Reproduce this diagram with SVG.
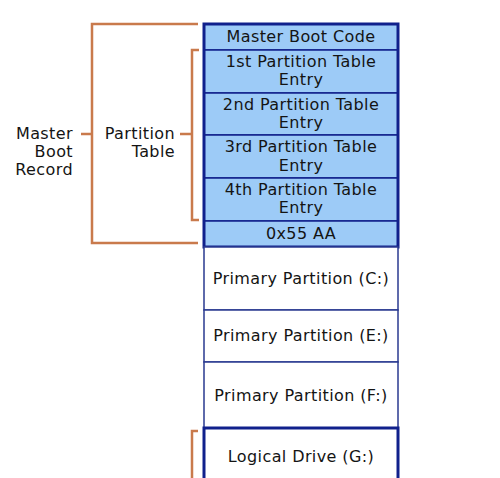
<svg xmlns="http://www.w3.org/2000/svg" width="500" height="478" viewBox="0 0 500 478">
<style>
text{font-family:"DejaVu Sans","Liberation Sans",sans-serif;font-size:16px;letter-spacing:0.4px;fill:#141414}
.c{text-anchor:middle}
.r{text-anchor:end}
.blue{fill:#9dcbf7;stroke:#10208c;stroke-width:1.5}
.white{fill:#ffffff;stroke:#2a3a90;stroke-width:1.5}
.thick{fill:none;stroke:#10208c;stroke-width:3}
.br{fill:none;stroke:#c97a4c;stroke-width:2.5}
</style>
<rect width="500" height="478" fill="#ffffff"/>
<g id="connectors">
<path class="br" d="M198,24 H92 V243 H198 M81,134 H92"/>
<path class="br" d="M199,50 H192 V220 H199 M180,134 H192"/>
<path class="br" d="M198,431 H192 V478"/>
</g>
<g id="label-mbr">
<text class="r" x="73" y="139">Master</text>
<text class="r" x="73" y="157">Boot</text>
<text class="r" x="73" y="175">Record</text>
</g>
<g id="label-pt">
<text class="r" x="175" y="139">Partition</text>
<text class="r" x="175" y="157">Table</text>
</g>
<g id="mbc">
<rect class="blue" x="204" y="24" width="194" height="26"/>
<text class="c" x="301" y="42">Master Boot Code</text>
</g>
<g id="pte1">
<rect class="blue" x="204" y="50" width="194" height="43"/>
<text class="c" x="301" y="67">1st Partition Table</text>
<text class="c" x="301" y="85">Entry</text>
</g>
<g id="pte2">
<rect class="blue" x="204" y="93" width="194" height="42"/>
<text class="c" x="301" y="110">2nd Partition Table</text>
<text class="c" x="301" y="128">Entry</text>
</g>
<g id="pte3">
<rect class="blue" x="204" y="135" width="194" height="43"/>
<text class="c" x="301" y="152">3rd Partition Table</text>
<text class="c" x="301" y="171">Entry</text>
</g>
<g id="pte4">
<rect class="blue" x="204" y="178" width="194" height="43"/>
<text class="c" x="301" y="195">4th Partition Table</text>
<text class="c" x="301" y="213">Entry</text>
</g>
<g id="sig">
<rect class="blue" x="204" y="221" width="194" height="26"/>
<text class="c" x="301" y="239">0x55 AA</text>
</g>
<rect id="mbr-outline" class="thick" x="204" y="24" width="194" height="223"/>
<g id="pc">
<rect class="white" x="204" y="247" width="194" height="63"/>
<text class="c" x="301" y="284">Primary Partition (C:)</text>
</g>
<g id="pe">
<rect class="white" x="204" y="310" width="194" height="52"/>
<text class="c" x="301" y="341">Primary Partition (E:)</text>
</g>
<g id="pf">
<rect class="white" x="204" y="362" width="194" height="66"/>
<text class="c" x="301" y="401">Primary Partition (F:)</text>
</g>
<g id="lg">
<rect class="thick" x="204" y="428" width="194" height="70" fill="#ffffff"/>
<text class="c" x="301" y="462">Logical Drive (G:)</text>
</g>
</svg>
